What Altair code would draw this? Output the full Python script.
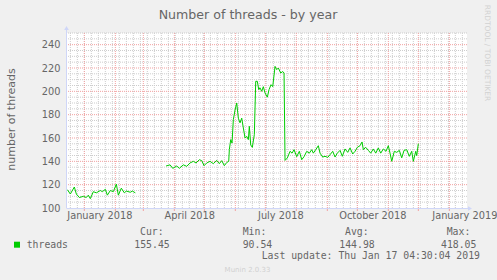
import altair as alt
import pandas as pd

# ---------------- data (day offsets from 2018-01-01, values) ----------------
seg1_days = [-17, -14, -10, -8, -5, -1, 2, 4, 6, 9, 12, 16, 18, 21, 23, 26, 29, 32,
             34, 37, 40, 42, 46, 48, 51]
seg1_vals = [115.7, 112, 118, 112, 109, 110, 109, 111, 108, 114, 113, 115, 114, 116,
             111, 115, 114, 120.5, 111, 117, 113, 114.5, 113.5, 114.5, 113]

seg2_days = [81.7, 85.7, 88.4, 92.4, 95, 99, 102.4, 105.7, 109, 111.7, 115, 117.4,
             119.7, 122.4, 125.7, 129, 132.4, 135, 137.4, 140, 142.4, 144.4, 145,
             146.4, 147.7, 149, 150.7, 152.4, 154, 155.7, 157.4, 159, 160.7, 162.4,
             164, 165, 166.4, 168, 170, 171.4, 173, 174.4, 175.7, 177.4, 179, 180.7,
             183, 184.7, 186.7, 188.4, 190.7, 192.4, 194, 196.4, 198.4, 199.7, 200.7,
             203, 205.7, 207.7, 209.7, 212.4, 215, 217.4, 219.7, 222.4, 225, 227.4,
             229, 231.4, 234, 235.7, 238.4, 240.7, 243.4, 245.7, 248.4, 250.7, 253,
             255.7, 258, 260.7, 263.4, 265.7, 268.4, 270.7, 273, 275.7, 277.7, 279,
             281.4, 284, 286.4, 289, 291.4, 294, 296.4, 299, 301.7, 304, 305.7, 307.4,
             310, 312.4, 315, 317.4, 319.7, 322.4, 325, 327.4, 329, 331.4, 332.4, 334]
seg2_vals = [136, 137, 134, 136, 134, 137, 135.7, 138.6, 140, 138.6, 141.4, 140.6,
             136.3, 138.6, 140, 138, 140.8, 138, 140.6, 136.3, 139, 140, 150,
             158.6, 155.7, 175.7, 184, 190, 177, 173, 177, 168.6, 160, 161.4,
             158.6, 170, 154, 152, 163, 208.6, 208.6, 201.5, 203, 200, 204, 198.6,
             195, 201.5, 205.7, 204, 221.4, 218.6, 220, 215.7, 217, 215.7, 140.8,
             142.9, 148.6, 147, 150, 144, 148.6, 141.4, 144, 148.6, 147, 150,
             147, 150, 153.4, 147, 143.7, 144.3, 143.4, 145.7, 148.6, 143.7, 147,
             149.4, 144.3, 150.6, 147.7, 151.5, 146.3, 148.6, 152, 153.4, 156.6, 150,
             152, 149.4, 147, 150.6, 147, 151.5, 147, 150.6, 148.6, 153.4, 147, 140,
             148.6, 147.7, 149.4, 143, 149.4, 150, 144.3, 148.6, 140, 148.6, 144.9, 155.1]

y_minor = [105, 110, 115, 125, 130, 135, 145, 150, 155, 165, 170, 175, 185, 190, 195,
           205, 210, 215, 225, 230, 235, 245, 250]
y_major = [120, 140, 160, 180, 200, 220, 240]
y_labels = [100, 120, 140, 160, 180, 200, 220, 240]

month_starts = ["2018-01-01", "2018-02-01", "2018-03-01", "2018-04-01", "2018-05-01",
                "2018-06-01", "2018-07-01", "2018-08-01", "2018-09-01", "2018-10-01",
                "2018-11-01", "2018-12-01", "2019-01-01"]
label_months = [(2018, 1), (2018, 4), (2018, 7), (2018, 10), (2019, 1)]

legend_name = "threads"
stat_names = ["Cur:", "Min:", "Avg:", "Max:"]
stat_values = ["155.45", "90.54", "144.98", "418.05"]
last_update = "Last update: Thu Jan 17 04:30:04 2019"
title_text = "Number of threads - by year"
ytitle_text = "number of threads"
watermark = "RRDTOOL / TOBI OETIKER"
footer = "Munin 2.0.33"

# ---------------- build tables ----------------
base = pd.Timestamp("2018-01-01")
line_df = pd.concat([
    pd.DataFrame({"t": base + pd.to_timedelta(seg1_days, unit="D"), "v": seg1_vals, "seg": "a"}),
    pd.DataFrame({"t": base + pd.to_timedelta(seg2_days, unit="D"), "v": seg2_vals, "seg": "b"}),
])
weeks_df = pd.DataFrame({"t": pd.date_range("2017-12-18", "2019-01-14", freq="7D")})
months_df = pd.DataFrame({"t": pd.to_datetime(month_starts)})
yminor_df = pd.DataFrame({"v": y_minor})
ymajor_df = pd.DataFrame({"v": y_major})

W, H = 400, 175
FONT = "DejaVu Sans"
MONO = "DejaVu Sans Mono"
TXT = "#666666"
GREEN = "#00CC00"
AXC = "#CFD6F8"

xscale = alt.Scale(domain=[alt.DateTime(year=2017, month=12, date=14, hours=16),
                           alt.DateTime(year=2019, month=1, date=18, hours=16)])
yscale = alt.Scale(domain=[100, 250], nice=False, zero=False)

x_axis = alt.Axis(title=None, values=[alt.DateTime(year=y, month=m, date=16) for y, m in label_months],
                  format="%B %Y", ticks=False, domain=False, grid=False,
                  labelFont=FONT, labelFontSize=9.8, labelColor=TXT, labelPadding=2,
                  labelOverlap=False, labelFlush=False)
y_axis = alt.Axis(title=None, values=y_labels, ticks=False, domain=False, grid=False,
                  labelFont=FONT, labelFontSize=9.8, labelColor=TXT, labelPadding=7)

X = lambda f: alt.X(f, scale=xscale, axis=x_axis)
Y = lambda f: alt.Y(f, scale=yscale, axis=y_axis)

MINC = "#cdcdcd"
MAJC = "#f2a0a0"
grid_minor_y = alt.Chart(yminor_df).mark_rule(color=MINC, strokeWidth=1, strokeDash=[1, 1]).encode(y=Y("v:Q"))
grid_minor_x = alt.Chart(weeks_df).mark_rule(color=MINC, strokeWidth=1, strokeDash=[1, 1]).encode(x=X("t:T"))
grid_major_y = alt.Chart(ymajor_df).mark_rule(color=MAJC, strokeWidth=1, strokeDash=[1, 1]).encode(y=Y("v:Q"))
grid_major_x = alt.Chart(months_df).mark_rule(color=MAJC, strokeWidth=1, strokeDash=[1, 1]).encode(x=X("t:T"))
month_ticks = alt.Chart(months_df).mark_rule(color=MAJC, strokeWidth=1).encode(
    x=X("t:T"), y=alt.value(H), y2=alt.value(H + 3))

line = alt.Chart(line_df).mark_line(color=GREEN, strokeWidth=1, clip=True).encode(
    x=X("t:T"), y=Y("v:Q"), detail="seg:N")

one = pd.DataFrame({"k": [0]})
axis_left = alt.Chart(one).mark_rule(color=AXC, strokeWidth=1).encode(
    x=alt.value(-0.5), y=alt.value(-5), y2=alt.value(H))
axis_bottom = alt.Chart(one).mark_rule(color=AXC, strokeWidth=1).encode(
    x=alt.value(-0.5), x2=alt.value(W + 3), y=alt.value(H + 0.5))
arrow_up = alt.Chart(one).mark_point(shape="triangle-up", filled=True, color=AXC, size=22, opacity=1).encode(
    x=alt.value(-0.5), y=alt.value(-5))
arrow_right = alt.Chart(one).mark_point(shape="triangle-right", filled=True, color=AXC, size=22, opacity=1).encode(
    x=alt.value(W + 3), y=alt.value(H + 0.5))


def txt(s, x, y, font=FONT, size=9.8, color=TXT, align="left", angle=0, baseline="alphabetic"):
    return alt.Chart(pd.DataFrame({"s": [s]})).mark_text(
        font=font, fontSize=size, color=color, align=align, baseline=baseline, angle=angle
    ).encode(text="s:N", x=alt.value(x), y=alt.value(y))


texts = [
    txt(title_text, 181, -14.5, size=12.6, align="center"),
    txt(ytitle_text, -52, 86.5, size=11, align="center", angle=270),
    txt(watermark, 418, 20, size=7.5, color="#d2d2d2", align="center", angle=90),
    txt(legend_name, -40.3, 215, font=MONO),
    txt(last_update, 194.7, 225.7, font=MONO),
    txt(footer, 180.5, 239.3, size=7, color="#d0d0d0", align="center"),
]
head_x = [73, 175.7, 278, 379.7]
val_x = [67.3, 175.7, 272.3, 374]
for n, v, hx, vx in zip(stat_names, stat_values, head_x, val_x):
    texts.append(txt(n, hx, 202, font=MONO))
    texts.append(txt(v, vx, 215, font=MONO))

legend_sq = alt.Chart(one).mark_rect(color=GREEN).encode(
    x=alt.value(-53), x2=alt.value(-47), y=alt.value(208.7), y2=alt.value(214.7))

chart = alt.layer(
    grid_minor_y, grid_minor_x, grid_major_y, grid_major_x, month_ticks,
    axis_left, axis_bottom, arrow_up, arrow_right,
    line, legend_sq, *texts
).properties(
    width=W, height=H,
    autosize=alt.AutoSizeParams(type="none"),
    padding={"left": 67, "top": 33, "right": 30, "bottom": 72},
    background="#F0F0F0",
).configure_view(fill="white", strokeWidth=0)

chart.save("out.html", embed_options={"renderer": "svg", "actions": False})
